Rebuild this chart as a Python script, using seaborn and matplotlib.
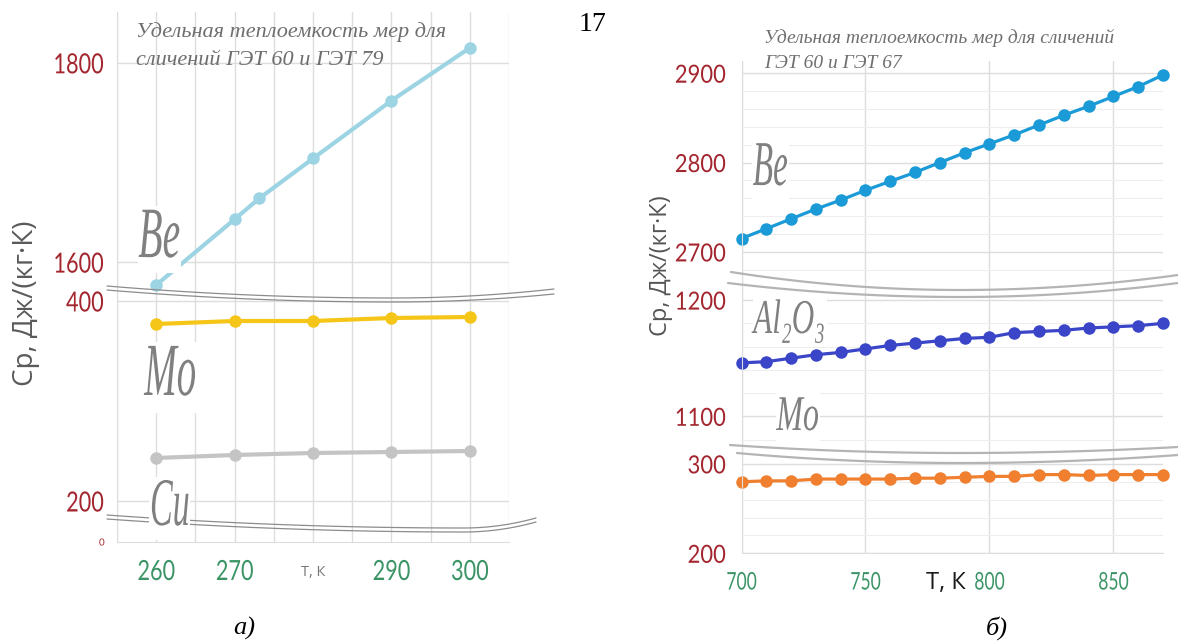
import numpy as np
import matplotlib
matplotlib.use('Agg')
import matplotlib.pyplot as plt
import seaborn as sns
from matplotlib.lines import Line2D
from matplotlib.patheffects import AbstractPathEffect
from matplotlib.transforms import Affine2D

# ---- values ----
# a) 260-300 K
t_be_a = [260, 270, 273.15, 280, 290, 300]
cp_be_a = [1577, 1643, 1664, 1704, 1762, 1815]
t_a = [260, 270, 280, 290, 300]
cp_mo_a = [377, 380, 380, 383, 384]
cp_cu_a = [243, 246, 248, 249, 250]
xticks_a = [260, 270, 280, 290, 300]
xlabels_a = ['260', '270', 'Т, К', '290', '300']

# б) 700-870 K
t_b = [700, 710, 720, 730, 740, 750, 760, 770, 780, 790,
       800, 810, 820, 830, 840, 850, 860, 870]
cp_be_b = [2715, 2726, 2737, 2748, 2758, 2769, 2779, 2789, 2800, 2811,
           2821, 2831, 2842, 2853, 2863, 2874, 2885, 2898]
cp_al_b = [1146, 1147, 1150, 1153, 1155, 1158, 1161, 1163, 1165, 1167,
           1168, 1172, 1173, 1174, 1176, 1177, 1178, 1180]
cp_mo_b = [280, 281, 281, 283, 283, 283, 283, 284, 284, 285,
           286, 286, 288, 288, 287, 288, 288, 288]
xticks_b = [700, 750, 800, 850]

RED = '#a3262f'
GREEN = '#3b9466'
GRID = '#dddddd'
MINOR = '#eeeeee'
LABEL = '#808080'
SERIF = ['Liberation Serif', 'DejaVu Serif']
SANS = ['Open Sans', 'DejaVu Sans']

sns.set_style('white')
plt.rcParams['font.family'] = ['Lato', 'DejaVu Sans']

W, H = 1178, 644
fig = plt.figure(figsize=(W / 100, H / 100), dpi=100)


class Squeeze(AbstractPathEffect):
    """narrow the glyphs horizontally (condensed look of the original fonts)"""
    def __init__(self, sx, anchor='center'):
        super().__init__()
        self.sx = sx
        self.anchor = anchor

    def draw_path(self, renderer, gc, tpath, affine, rgbFace=None):
        ext = tpath.get_extents(affine)
        if self.anchor == 'left':
            x0 = ext.x0
        elif self.anchor == 'right':
            x0 = ext.x1
        else:
            x0 = (ext.x0 + ext.x1) / 2
        sq = Affine2D().translate(-x0, 0).scale(self.sx, 1).translate(x0, 0)
        renderer.draw_path(gc, tpath, affine + sq, rgbFace)


def box(x0, x1, y0, y1):
    return [x0 / W, 1 - y1 / H, (x1 - x0) / W, (y1 - y0) / H]


def fxy(x, y):
    return x / W, 1 - y / H


def style(ax, xlim, ylim, xmaj, xmin_, ymaj, ymin_=None, bottom=False):
    ax.set_xlim(xlim)
    ax.set_ylim(ylim)
    ax.set_xticks(xmaj)
    ax.set_xticks(xmin_, minor=True)
    ax.set_yticks(ymaj)
    ax.set_axisbelow(True)
    ax.grid(True, axis='x', which='both', color=GRID, lw=1)
    ax.grid(True, axis='y', which='major', color=GRID, lw=1)
    if ymin_ is not None:
        ax.set_yticks(ymin_, minor=True)
        ax.grid(True, axis='y', which='minor', color=MINOR, lw=0.8)
    ax.tick_params(which='both', length=0)
    for s in ax.spines.values():
        s.set_visible(False)
    ax.spines['left'].set_visible(True)
    ax.spines['left'].set_color(GRID)
    if bottom:
        ax.spines['bottom'].set_visible(True)
        ax.spines['bottom'].set_color(GRID)
    else:
        ax.tick_params(labelbottom=False)
    ax.set_xlabel('')
    ax.set_ylabel('')


def ylabels(ax, size, sx, pad):
    ax.tick_params(axis='y', pad=pad)
    for lbl in ax.get_yticklabels():
        lbl.set_fontsize(size)
        lbl.set_color(RED)
        lbl.set_path_effects([Squeeze(sx, 'right')])


def wave(x0, y0, xm, ym, x1, y1, color, lw):
    xs = np.linspace(x0, x1, 80)
    ys = np.where(xs < xm,
                  ym + (y0 - ym) * ((xs - xm) / (x0 - xm)) ** 2,
                  ym + (y1 - ym) * ((xs - xm) / (x1 - xm)) ** 2)
    fig.add_artist(Line2D(xs / W, 1 - ys / H, transform=fig.transFigure,
                          color=color, lw=lw, zorder=2))


def tag(x, y, s, size, sx):
    t = fig.text(*fxy(x, y), s, fontsize=size, family=SERIF, style='italic',
                 color=LABEL, ha='center', va='baseline',
                 path_effects=[Squeeze(sx)],
                 bbox=dict(fc='white', ec='none', pad=1))
    t.get_bbox_patch().set_path_effects([Squeeze(sx)])


# ================= a) =================
xlim_a = (255, 305)
xminor_a = [255, 260, 265, 270, 275, 280, 285, 290, 295, 300, 305]
ax_a1 = fig.add_axes(box(117, 509, 12, 293))
ax_a2 = fig.add_axes(box(117, 509, 293, 524))
ax_a3 = fig.add_axes(box(117, 509, 524, 542))

kw_a = dict(marker='o', markersize=9, markeredgewidth=0, linewidth=3,
            clip_on=False, legend=False)
sns.lineplot(x=t_be_a, y=cp_be_a, ax=ax_a1, color='#9dd4e3', **kw_a)
sns.lineplot(x=t_a, y=cp_mo_a, ax=ax_a2, color='#f5c518', **kw_a)
sns.lineplot(x=t_a, y=cp_cu_a, ax=ax_a2, color='#c4c4c4', **kw_a)

style(ax_a1, xlim_a, (1569, 1851), xticks_a, xminor_a, [1600, 1800])
style(ax_a2, xlim_a, (177, 408), xticks_a, xminor_a, [200, 400])
style(ax_a3, xlim_a, (0, 18), xticks_a, xminor_a, [0], bottom=True)
ax_a3.grid(False, axis='y')
for ax in (ax_a1, ax_a2):
    ylabels(ax, 20, 0.78, 9.4)
ylabels(ax_a3, 7, 1.0, 9.0)

ax_a3.set_xticklabels(xlabels_a)
ax_a3.tick_params(axis='x', pad=21.6)
for lbl in ax_a3.get_xticklabels():
    lbl.set_verticalalignment('center')
    if lbl.get_text() == 'Т, К':
        lbl.set_fontsize(10.5)
        lbl.set_color('#777777')
        lbl.set_fontfamily(SANS)
    else:
        lbl.set_fontsize(20)
        lbl.set_color(GREEN)
        lbl.set_path_effects([Squeeze(0.78)])

# ================= б) =================
xlim_b = (700, 870)
ax_b1 = fig.add_axes(box(741.5, 1163, 60.7, 285))
ax_b2 = fig.add_axes(box(741.5, 1163, 285, 450))
ax_b3 = fig.add_axes(box(741.5, 1163, 450, 553.3))

kw_b = dict(marker='o', markersize=9, markeredgewidth=0, linewidth=2.3,
            clip_on=False, legend=False)
sns.lineplot(x=t_b, y=cp_be_b, ax=ax_b1, color='#1a9ad6', **kw_b)
sns.lineplot(x=t_b, y=cp_al_b, ax=ax_b2, color='#3a45c8', **kw_b)
sns.lineplot(x=t_b, y=cp_mo_b, ax=ax_b3, color='#f08030', **kw_b)

style(ax_b1, xlim_b, (2663, 2914), xticks_b, xticks_b, [2700, 2800, 2900],
      np.arange(2680, 2901, 20))
style(ax_b2, xlim_b, (1071, 1213), xticks_b, xticks_b, [1100, 1200],
      np.arange(1080, 1201, 20))
style(ax_b3, xlim_b, (200, 315.5), xticks_b, xticks_b, [200, 300],
      np.arange(220, 301, 20), bottom=True)
for ax in (ax_b1, ax_b2, ax_b3):
    ylabels(ax, 18, 0.88, 11.2)
ax_b3.tick_params(axis='x', pad=21.4)
for lbl in ax_b3.get_xticklabels():
    lbl.set_verticalalignment('center')
    lbl.set_fontsize(17.5)
    lbl.set_color(GREEN)
    lbl.set_path_effects([Squeeze(0.72)])

# ---- axis breaks ----
wave(107, 286, 393, 298, 554, 289, '#8c8c8c', 0.9)
wave(107, 290, 393, 302, 554, 294, '#8c8c8c', 0.9)
wave(107, 515, 464, 528, 536, 518, '#8c8c8c', 0.9)
wave(107, 519, 464, 532, 536, 522, '#8c8c8c', 0.9)
wave(731, 272, 960, 290, 1178, 275, '#b4b4b4', 1.6)
wave(728, 283, 960, 297, 1178, 283, '#b4b4b4', 1.6)
wave(730, 445, 960, 453, 1178, 447, '#b4b4b4', 1.6)
wave(737, 453, 960, 463, 1178, 455, '#b4b4b4', 1.6)

# ---- series names ----
tag(159.5, 257, 'Be', 52, 0.55)
tag(171, 395, 'Mo', 54, 0.52)
tag(169.5, 525, 'Cu', 49, 0.5)
tag(770.5, 185, 'Be', 46, 0.52)
tag(790, 333, 'Al₂O₃', 35, 0.64)
tag(798, 430, 'Mo', 36, 0.64)

# ---- titles and captions ----
TITLE = '#6e6e6e'
fig.text(*fxy(136, 37), 'Удельная теплоемкость мер для', fontsize=16,
         family=SERIF, style='italic', color=TITLE, va='baseline')
fig.text(*fxy(136, 65), 'сличений ГЭТ 60 и ГЭТ 79', fontsize=16,
         family=SERIF, style='italic', color=TITLE, va='baseline')
fig.text(*fxy(764, 43), 'Удельная теплоемкость мер для сличений', fontsize=14,
         family=SERIF, style='italic', color=TITLE, va='baseline')
fig.text(*fxy(764, 68), 'ГЭТ 60 и ГЭТ 67', fontsize=14,
         family=SERIF, style='italic', color=TITLE, va='baseline')

fig.text(*fxy(26, 303), 'Ср, Дж/(кг·К)', rotation=90, fontsize=20,
         family=SANS, color='#5a5a5a', ha='center', va='center')
fig.text(*fxy(661, 266), 'Ср, Дж/(кг·К)', rotation=90, fontsize=17,
         family=SANS, color='#555555', ha='center', va='center')
fig.text(*fxy(946, 583), 'Т, К', fontsize=17, family=SANS, color='#1a1a1a',
         ha='center', va='center')

fig.text(*fxy(592, 31), '17', fontsize=20, family=SERIF, color='black',
         ha='center', va='baseline')
fig.text(*fxy(244, 628), 'а)', fontsize=19, family=SERIF, style='italic',
         color='black', ha='center', va='center')
fig.text(*fxy(997, 628), 'б)', fontsize=19, family=SERIF, style='italic',
         color='black', ha='center', va='center')

fig.savefig('out.png', dpi=100)
